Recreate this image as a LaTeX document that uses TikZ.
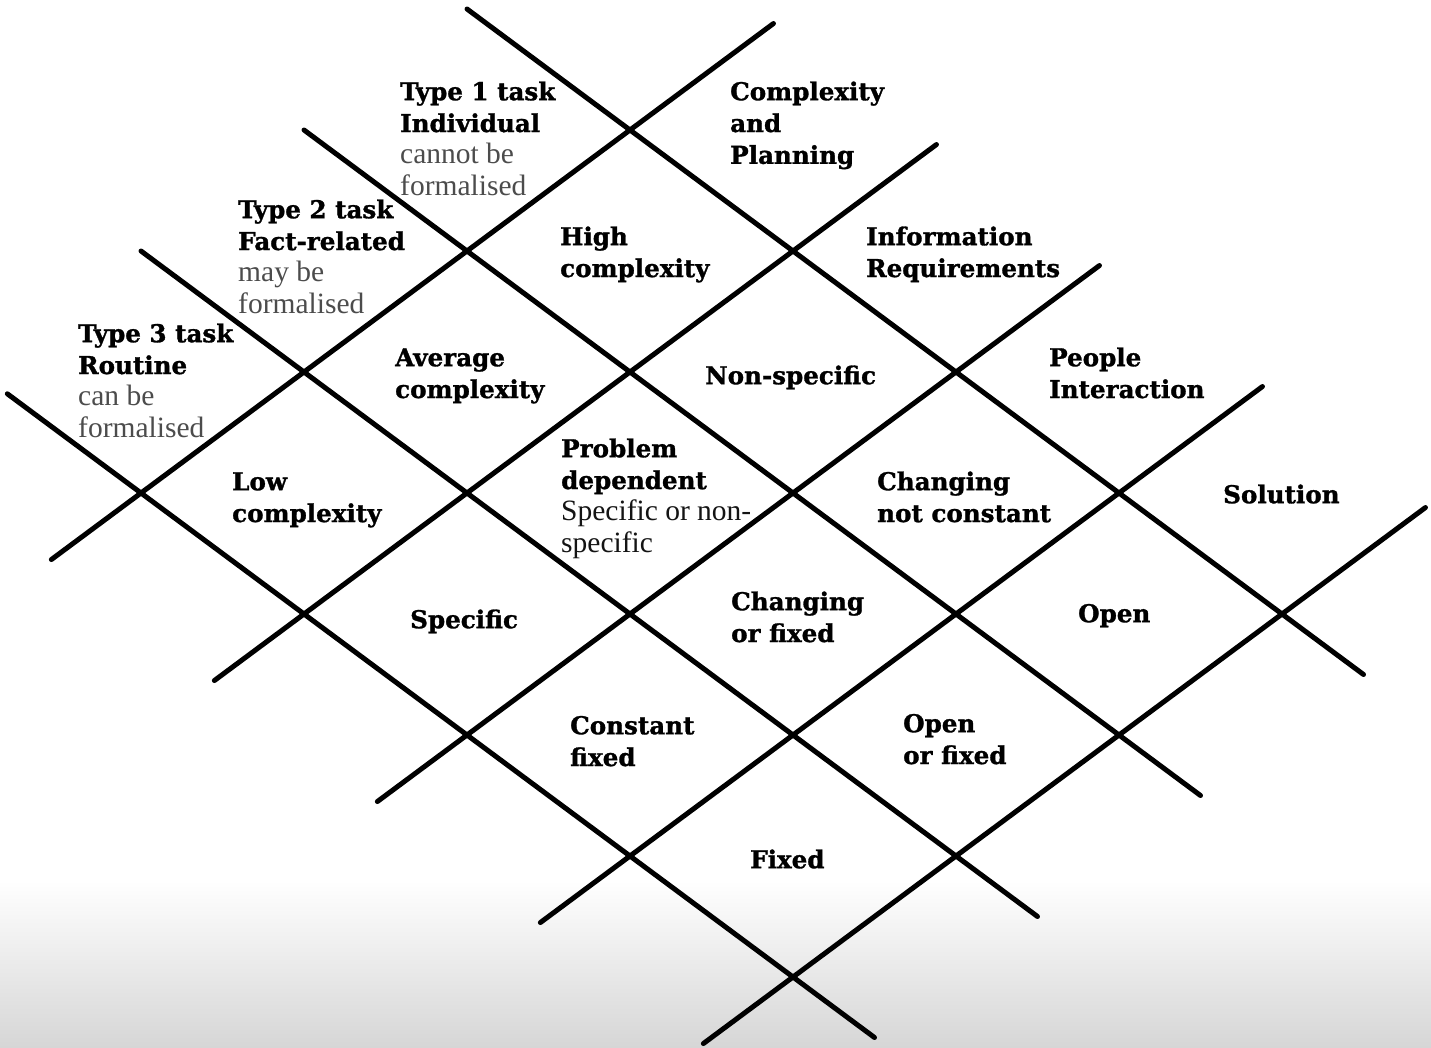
\documentclass[tikz,border=0pt]{standalone}
\usepackage{fontspec}
\setmainfont{DejaVu Serif}[BoldFeatures={FakeBold=1.2}]
\newfontfamily\lightserif{Liberation Serif}
\newcommand\fl{\rule{0pt}{20pt}}
\newcommand\regtxt[1]{{\lightserif\mdseries\fontsize{29.5}{31.8}\selectfont\color{black!70}#1}}
\newcommand\regdark[1]{{\lightserif\mdseries\fontsize{29.5}{31.8}\selectfont\color{black!92}#1}}
\tikzset{
  gridline/.style={line width=5pt, line cap=round, black},
  lbl/.style={anchor=north west, inner sep=0pt, align=left,
    font=\fontsize{24.6}{31.8}\selectfont\bfseries}
}
\begin{document}
\begin{tikzpicture}[x=1pt,y=-1pt]
\useasboundingbox (0,0) rectangle (1431,1047);
\shade[top color=white,bottom color=black!16] (0,880) rectangle (1431,1047);
% grid end points
\foreach \i/\a in {0/-1,1/-1,2/-1,3/-0.82}{
  \coordinate (bs\i) at ({630+163*\a-163*\i},{130+121*\a+121*\i});
  \coordinate (be\i) at ({630+163*4.5-163*\i},{130+121*4.5+121*\i});
}
\foreach \j in {0,...,4}{
  \coordinate (ss\j) at ({630+163*\j-163*3.55},{130+121*\j+121*3.55});
  \coordinate (se\j) at ({630+163*\j+163*0.88},{130+121*\j-121*0.88});
}
\foreach \i in {0,...,3}{ \draw[gridline] (bs\i) -- (be\i); }
\foreach \j in {0,...,4}{ \draw[gridline] (ss\j) -- (se\j); }
% labels
\node[lbl] (t1) at (400,80) {\fl Type 1 task\\Individual\\\regtxt{cannot be}\\\regtxt{formalised}};
\node[lbl] (cp) at (730,80) {\fl Complexity\\and\\Planning};
\node[lbl] (t2) at (238,198) {\fl Type 2 task\\Fact-related\\\regtxt{may be}\\\regtxt{formalised}};
\node[lbl] (hc) at (560,225) {\fl High\\complexity};
\node[lbl] (ir) at (866,225) {\fl Information\\Requirements};
\node[lbl] (t3) at (78,322) {\fl Type 3 task\\Routine\\\regtxt{can be}\\\regtxt{formalised}};
\node[lbl] (ac) at (395,346) {\fl Average\\complexity};
\node[lbl] (ns) at (705,364) {\fl Non-specific};
\node[lbl] (pi) at (1049,346) {\fl People\\Interaction};
\node[lbl] (lc) at (232,470) {\fl Low\\complexity};
\node[lbl] (pd) at (561,437) {\fl Problem\\dependent\\\regdark{Specific or non-}\\\regdark{specific}};
\node[lbl] (cn) at (877,470) {\fl Changing\\not constant};
\node[lbl] (so) at (1223,483) {\fl Solution};
\node[lbl] (sp) at (410,608) {\fl Specific};
\node[lbl] (cf) at (731,590) {\fl Changing\\or fixed};
\node[lbl] (op) at (1078,602) {\fl Open};
\node[lbl] (cof) at (570,714) {\fl Constant\\fixed};
\node[lbl] (oof) at (903,712) {\fl Open\\or fixed};
\node[lbl] (fx) at (750,848) {\fl Fixed};
\end{tikzpicture}
\end{document}
